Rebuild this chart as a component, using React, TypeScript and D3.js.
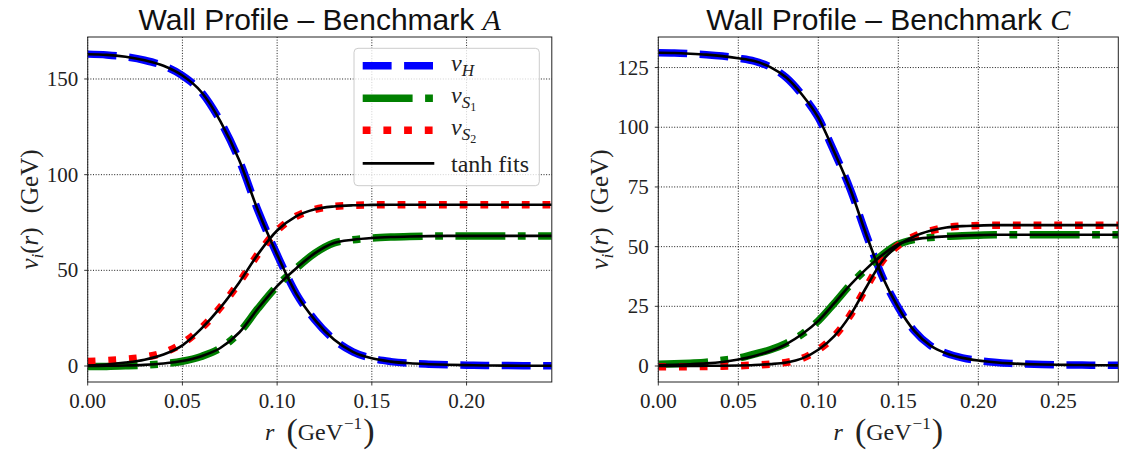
import React from "react";
import * as d3 from "d3";

// ---------- Benchmark A ----------
const rA = [0, 0.01, 0.02, 0.03, 0.04, 0.05, 0.06, 0.07, 0.08, 0.09, 0.1, 0.11, 0.12, 0.13, 0.14, 0.15, 0.16, 0.17, 0.18, 0.19, 0.2, 0.21, 0.22, 0.23, 0.24, 0.245];
const vH_A = [163, 162.6, 161.6, 159.8, 156.9, 151.8, 143.2, 128, 107.5, 81, 58.2, 38, 24, 13.8, 7.4, 4, 2.3, 1.4, 0.95, 0.65, 0.45, 0.3, 0.22, 0.17, 0.13, 0.12];
const vS1_A = [-0.3, -0.2, 0.1, 0.5, 1.2, 2.5, 5, 9.3, 17.5, 30.2, 41.8, 51, 59, 64.3, 66, 66.9, 67.4, 67.7, 67.9, 68, 68, 68, 68, 68, 68, 68];
const vS2_A = [2.3, 2.8, 3.5, 4.6, 7.0, 11.8, 19.8, 30.6, 43.7, 58.6, 70.8, 78.2, 81.9, 83.4, 84, 84.2, 84.3, 84.3, 84.3, 84.3, 84.3, 84.3, 84.3, 84.3, 84.3, 84.3];
const fitH_A = [162.9, 162.6, 161.6, 159.8, 156.9, 151.8, 143.2, 128, 107.5, 81, 58.2, 38, 24, 13.8, 7.4, 4, 2.3, 1.4, 0.95, 0.65, 0.45, 0.3, 0.22, 0.17, 0.13, 0.12];
const fitS1_A = [0.05, 0.1, 0.25, 0.6, 1.3, 2.6, 5.1, 9.4, 17.5, 30.2, 41.8, 51, 59, 64.3, 66, 66.9, 67.4, 67.7, 67.9, 68, 68, 68, 68, 68, 68, 68];
const fitS2_A = [0.3, 0.8, 1.8, 3.3, 6.0, 10.8, 19.5, 30.5, 43.7, 58.6, 70.8, 78.2, 81.9, 83.4, 84, 84.2, 84.3, 84.3, 84.3, 84.3, 84.3, 84.3, 84.3, 84.3, 84.3, 84.3];

// ---------- Benchmark C ----------
const rC = [0, 0.01, 0.02, 0.03, 0.04, 0.05, 0.06, 0.07, 0.08, 0.09, 0.1, 0.11, 0.12, 0.13, 0.14, 0.15, 0.16, 0.17, 0.18, 0.19, 0.2, 0.21, 0.22, 0.23, 0.24, 0.25, 0.26, 0.27, 0.28, 0.2875];
const vH_C = [131.2, 131.1, 130.8, 130.4, 129.8, 128.9, 127.7, 125.2, 120.8, 113.5, 104, 89.6, 74, 55, 37.5, 24.5, 14.7, 8.6, 5.3, 3.4, 2.3, 1.6, 1.1, 0.8, 0.6, 0.5, 0.42, 0.36, 0.3, 0.27];
const vS1_C = [0.7, 0.9, 1.2, 1.6, 2.4, 3.3, 5, 6.8, 9.5, 13.4, 18.9, 26.3, 34, 40.7, 46.5, 51, 53, 53.8, 54.3, 54.6, 54.8, 55, 55, 55, 55, 55, 55, 55, 55, 55];
const vS2_C = [-0.3, -0.3, -0.3, -0.2, -0.1, 0.1, 0.4, 0.8, 1.5, 3.2, 6.8, 12.5, 21.3, 33, 44, 50.5, 54.3, 56.6, 58, 58.6, 58.8, 59, 59, 59, 59, 59, 59, 59, 59, 59];
const fitH_C = [131.2, 131.1, 130.8, 130.4, 129.8, 128.9, 127.7, 125.2, 120.8, 113.5, 104, 89.6, 74, 55, 37.5, 24.5, 14.7, 8.6, 5.3, 3.4, 2.3, 1.6, 1.1, 0.8, 0.6, 0.5, 0.42, 0.36, 0.3, 0.27];
const fitS1_C = [0.35, 0.5, 0.75, 1.1, 1.7, 2.7, 4.2, 6.3, 9.2, 13.4, 18.9, 26.3, 34, 40.7, 46.5, 51, 53, 53.8, 54.3, 54.6, 54.8, 55, 55, 55, 55, 55, 55, 55, 55, 55];
const fitS2_C = [0.02, 0.03, 0.05, 0.08, 0.12, 0.2, 0.4, 0.8, 1.5, 3.2, 6.8, 12.5, 21.3, 33, 44, 50.5, 54.3, 56.6, 58, 58.6, 58.8, 59, 59, 59, 59, 59, 59, 59, 59, 59];

// ---------- ticks ----------
const xTicksA = [0, 0.05, 0.1, 0.15, 0.2];
const yTicksA = [0, 50, 100, 150];
const xTicksC = [0, 0.05, 0.1, 0.15, 0.2, 0.25];
const yTicksC = [0, 25, 50, 75, 100, 125];

const BLUE = "#0000ff";
const GREEN = "#008000";
const RED = "#ff0000";
const LW = 7.5;
const DASH_H = "28.9 12.5";
const DASH_S1 = "49.9 12.5 7.8 12.5";
const DASH_S2 = "7.8 12.9";
const SERIF = "'Liberation Serif', 'Times New Roman', serif";
const SANS = "'Liberation Sans', Arial, sans-serif";

type PanelProps = {
  id: string;
  r: number[];
  data: number[][];
  fits: number[][];
  xmax: number;
  ymin: number;
  ymax: number;
  x0: number;
  x1: number;
  xTicks: number[];
  yTicks: number[];
  letter: string;
  legend: boolean;
  ylabelX: number;
};

const TOP = 37;
const BOTTOM = 382;

function Legend() {
  const lx0 = 362.7, lx1 = 434.3, tx = 451;
  const rows = [65.7, 98.3, 130.3, 163.3];
  return (
    <g>
      <rect x={354} y={48.3} width={185.3} height={137.4} rx={4} fill="#fff" fillOpacity={0.8} stroke="#cccccc" strokeWidth={1} />
      <line x1={lx0} x2={lx1} y1={rows[0]} y2={rows[0]} stroke={BLUE} strokeWidth={LW} strokeDasharray={DASH_H} />
      <line x1={lx0} x2={lx1} y1={rows[1]} y2={rows[1]} stroke={GREEN} strokeWidth={LW} strokeDasharray={DASH_S1} />
      <line x1={lx0} x2={lx1} y1={rows[2]} y2={rows[2]} stroke={RED} strokeWidth={LW} strokeDasharray={DASH_S2} />
      <line x1={lx0} x2={lx1} y1={rows[3]} y2={rows[3]} stroke="#000" strokeWidth={2.7} />
      <text x={tx} y={rows[0] + 5} fontFamily={SERIF} fontSize={24} fill="#222">
        <tspan fontStyle="italic">v</tspan>
        <tspan fontStyle="italic" fontSize={17} dy={5}>H</tspan>
      </text>
      <text x={tx} y={rows[1] + 5} fontFamily={SERIF} fontSize={24} fill="#222">
        <tspan fontStyle="italic">v</tspan>
        <tspan fontStyle="italic" fontSize={17} dy={5}>S</tspan>
        <tspan fontSize={12} dy={3}>1</tspan>
      </text>
      <text x={tx} y={rows[2] + 5} fontFamily={SERIF} fontSize={24} fill="#222">
        <tspan fontStyle="italic">v</tspan>
        <tspan fontStyle="italic" fontSize={17} dy={5}>S</tspan>
        <tspan fontSize={12} dy={3}>2</tspan>
      </text>
      <text x={tx} y={rows[3] + 8.5} fontFamily={SERIF} fontSize={24} fill="#222">tanh fits</text>
    </g>
  );
}

function Panel(p: PanelProps) {
  const x = d3.scaleLinear().domain([0, p.xmax]).range([p.x0, p.x1]);
  const y = d3.scaleLinear().domain([p.ymin, p.ymax]).range([BOTTOM, TOP]);
  const mk = (vals: number[]) =>
    d3
      .line<number>()
      .x((_, i) => x(p.r[i]))
      .y((v) => y(v))
      .curve(d3.curveMonotoneX)(vals) || "";
  const colors = [BLUE, GREEN, RED];
  const dashes = [DASH_H, DASH_S1, DASH_S2];
  const cx = (p.x0 + p.x1) / 2;
  const cy = (TOP + BOTTOM) / 2;
  const fmtX = d3.format(".2f");
  return (
    <g>
      <defs>
        <clipPath id={p.id}>
          <rect x={p.x0} y={TOP} width={p.x1 - p.x0} height={BOTTOM - TOP} />
        </clipPath>
      </defs>
      {/* grid */}
      <g stroke="#000" strokeWidth={0.9} strokeDasharray="1 1.65">
        {p.xTicks.map((t) => (
          <line key={"gx" + t} x1={x(t)} x2={x(t)} y1={TOP} y2={BOTTOM} />
        ))}
        {p.yTicks.map((t) => (
          <line key={"gy" + t} x1={p.x0} x2={p.x1} y1={y(t)} y2={y(t)} />
        ))}
      </g>
      {/* data + fits */}
      <g clipPath={`url(#${p.id})`} fill="none">
        {p.data.map((vals, i) => (
          <path key={"d" + i} d={mk(vals)} stroke={colors[i]} strokeWidth={LW} strokeDasharray={dashes[i]} />
        ))}
        {p.fits.map((vals, i) => (
          <path key={"f" + i} d={mk(vals)} stroke="#000" strokeWidth={2.6} />
        ))}
      </g>
      {/* spines */}
      <rect x={p.x0} y={TOP} width={p.x1 - p.x0} height={BOTTOM - TOP} fill="none" stroke="#222" strokeWidth={1} />
      {/* ticks */}
      <g stroke="#222" strokeWidth={0.9}>
        {p.xTicks.map((t) => (
          <line key={"tx" + t} x1={x(t)} x2={x(t)} y1={BOTTOM} y2={BOTTOM + 3.5} />
        ))}
        {p.yTicks.map((t) => (
          <line key={"ty" + t} x1={p.x0 - 3.5} x2={p.x0} y1={y(t)} y2={y(t)} />
        ))}
      </g>
      <g fontFamily={SERIF} fontSize={21} fill="#222">
        {p.xTicks.map((t) => (
          <text key={"lx" + t} x={x(t)} y={407.5} textAnchor="middle">
            {fmtX(t)}
          </text>
        ))}
        {p.yTicks.map((t) => (
          <text key={"ly" + t} x={p.x0 - 9.5} y={y(t) + 7} textAnchor="end">
            {String(t)}
          </text>
        ))}
      </g>
      {/* x label */}
      <text x={cx} y={440} textAnchor="middle" fontFamily={SERIF} fontSize={24} fill="#222">
        <tspan fontStyle="italic">r</tspan>
        <tspan dx={12} fontSize={34} dy={2}>(</tspan>
        <tspan fontSize={24} dy={-2}>GeV</tspan>
        <tspan fontSize={17} dx={1} dy={-11.5}>−1</tspan>
        <tspan fontSize={34} dx={1} dy={13.5}>)</tspan>
      </text>
      {/* y label */}
      <text transform={`translate(${p.ylabelX},${cy}) rotate(-90)`} textAnchor="middle" fontFamily={SERIF} fontSize={25} fill="#222">
        <tspan fontStyle="italic">v</tspan>
        <tspan fontStyle="italic" fontSize={17} dy={5}>i</tspan>
        <tspan dy={-5}>(</tspan>
        <tspan fontStyle="italic">r</tspan>
        <tspan>)</tspan>
        <tspan dx={14}>(GeV)</tspan>
      </text>
      {/* title */}
      <text x={cx} y={30.4} textAnchor="middle" fontFamily={SANS} fontSize={30} fill="#111">
        Wall Profile – Benchmark <tspan fontFamily={SERIF} fontStyle="italic">{p.letter}</tspan>
      </text>
      {p.legend ? <Legend /> : null}
    </g>
  );
}

export default function App() {
  return (
    <svg
      width={1125}
      height={450}
      viewBox="0 0 1125 450"
      style={{ position: "absolute", left: 0, top: 0, background: "#fff" }}
    >
      <rect x={0} y={0} width={1125} height={450} fill="#fff" />
      <Panel
        id="clipA"
        r={rA}
        data={[vH_A, vS1_A, vS2_A]}
        fits={[fitH_A, fitS1_A, fitS2_A]}
        xmax={0.245}
        ymin={-8.36}
        ymax={171.95}
        x0={87.7}
        x1={551.8}
        xTicks={xTicksA}
        yTicks={yTicksA}
        letter="A"
        legend={true}
        ylabelX={38}
      />
      <Panel
        id="clipC"
        r={rC}
        data={[vH_C, vS1_C, vS2_C]}
        fits={[fitH_C, fitS1_C, fitS2_C]}
        xmax={0.2875}
        ymin={-6.7}
        ymax={137.8}
        x0={658.3}
        x1={1118.3}
        xTicks={xTicksC}
        yTicks={yTicksC}
        letter="C"
        legend={false}
        ylabelX={608}
      />
    </svg>
  );
}
